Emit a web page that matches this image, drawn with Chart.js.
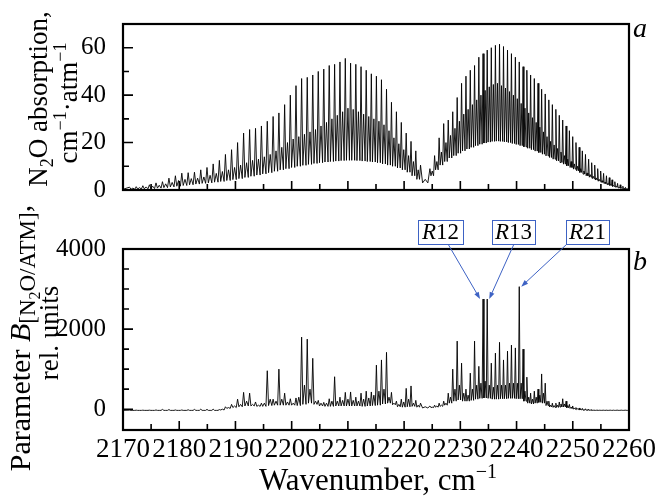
<!DOCTYPE html>
<html>
<head>
<meta charset="utf-8">
<script src="https://cdn.jsdelivr.net/npm/chart.js@4.4.0/dist/chart.umd.min.js"></script>
<style>
  html, body { margin: 0; padding: 0; background: #fff; }
  #wrap { position: relative; width: 655px; height: 497px; }
  canvas { position: absolute; left: 0; top: 0; }
</style>
</head>
<body>
<div id="wrap">
  <canvas id="absChart" width="655" height="497"></canvas>
  <canvas id="bChart" width="655" height="497"></canvas>
</div>
<script>
// ---- DATA ----
// line centres, cm-1: P(52)..P(1), then R(0)..R(55)
const lineWn = [
  2171.17, 2172.35, 2173.53, 2174.70, 2175.87, 2177.02, 2178.17, 2179.32, 2180.46, 2181.59,
  2182.71, 2183.83, 2184.94, 2186.04, 2187.14, 2188.22, 2189.31, 2190.38, 2191.45, 2192.52,
  2193.57, 2194.62, 2195.66, 2196.70, 2197.73, 2198.75, 2199.76, 2200.77, 2201.77, 2202.77,
  2203.75, 2204.73, 2205.71, 2206.68, 2207.64, 2208.59, 2209.54, 2210.48, 2211.41, 2212.34,
  2213.26, 2214.17, 2215.07, 2215.97, 2216.87, 2217.75, 2218.63, 2219.50, 2220.37, 2221.23,
  2222.08, 2222.92,
  2224.59, 2225.42, 2226.23, 2227.04, 2227.85, 2228.65, 2229.44, 2230.22, 2231.00, 2231.77,
  2232.53, 2233.29, 2234.04, 2234.78, 2235.51, 2236.24, 2236.97, 2237.68, 2238.39, 2239.09,
  2239.79, 2240.48, 2241.16, 2241.83, 2242.50, 2243.16, 2243.82, 2244.46, 2245.10, 2245.74,
  2246.37, 2246.99, 2247.60, 2248.21, 2248.81, 2249.40, 2249.99, 2250.57, 2251.14, 2251.70,
  2252.26, 2252.82, 2253.36, 2253.90, 2254.43, 2254.96, 2255.48, 2255.99, 2256.49, 2256.99,
  2257.48, 2257.97, 2258.44, 2258.91, 2259.38, 2259.84
];
const P_LINES = 52;

// (a) absorption, cm-1 atm-1: line maxima, weaker peak between lines, minimum between lines
const absPeak = [
  1.2, 1.4, 1.8, 2.2, 3.0, 3.5, 5.0, 6.0, 7.1, 7.3,
  7.5, 8.5, 9.5, 11, 12.5, 15, 17, 20, 24, 25.5,
  26, 27, 29, 31, 32.5, 36, 40, 44, 47, 47.5,
  48.5, 50, 51, 52.5, 53, 54, 55.5, 53.5, 53, 52,
  50.5, 49, 48, 46.5, 42.5, 37, 33, 28.5, 24, 20.5,
  16.5, 10.5,
  9, 14.5, 22, 28, 29.5, 33, 39, 45, 48, 50.5,
  52.5, 56, 57.5, 59, 60, 61, 61.5, 60.5, 59, 57.5,
  56, 54, 52, 50.5, 48.5, 47, 45, 42.5, 40.5, 38,
  36, 34, 31.5, 29.5, 27, 25, 22.5, 20, 18, 16.5,
  15, 13, 11.5, 10.5, 9, 8, 7, 6, 5.2, 4.3,
  3.5, 2.8, 2.2, 1.6, 1.1, 0.7
];
const absSub = [
  0.8, 1.0, 1.3, 1.6, 2.0, 2.6, 3.2, 4.0, 4.5, 4.8,
  5.0, 5.5, 6.2, 7.0, 7.8, 8.5, 9.5, 10.5, 11.5, 12.5,
  13, 14, 15, 16.5, 18, 20, 21.5, 22.5, 23.5, 24.5,
  25.5, 27, 28.5, 30, 31.5, 33, 34.5, 34, 33, 32,
  31, 30, 29, 27.5, 25, 22, 19.5, 17, 14.5, 12,
  8.5,
  4.5,
  8, 12, 16, 20, 23, 26, 29, 32, 34, 36,
  38, 40, 42, 43.5, 44.5, 45, 44, 43, 41.5, 40,
  38.5, 36.5, 34.5, 32.5, 30.5, 28.5, 26.5, 24.5, 22.5, 20.5,
  19, 17.5, 16, 14.5, 13, 12, 11, 10, 9, 8,
  7.2, 6.5, 5.8, 5.1, 4.5, 3.9, 3.3, 2.8, 2.3, 1.9,
  1.5, 1.2, 0.9, 0.7, 0.5
];
const absFloor = [
  0.3, 0.4, 0.5, 0.6, 0.8, 1.0, 1.3, 1.6, 1.9, 2.2,
  2.5, 2.8, 3.0, 3.3, 3.6, 4.0, 4.4, 4.8, 5.3, 5.8,
  6.3, 6.8, 7.3, 7.9, 8.5, 9.0, 9.5, 10.0, 10.4, 10.8,
  11.2, 11.5, 11.8, 12.0, 12.2, 12.4, 12.5, 12.5, 12.4, 12.2,
  12.0, 11.8, 11.5, 11.0, 10.5, 10.0, 9.3, 8.5, 7.5, 6.0,
  4.5,
  3,
  6, 8.5, 10.5, 12, 13.5, 14.5, 15.5, 16.5, 17.3, 18,
  18.7, 19.3, 19.8, 20.2, 20.5, 20.6, 20.5, 20.3, 20, 19.6,
  19.2, 18.7, 18.2, 17.6, 17, 16.4, 15.8, 15.1, 14.4, 13.7,
  13, 12.3, 11.6, 10.9, 10.2, 9.5, 8.8, 8.1, 7.4, 6.7,
  6.0, 5.4, 4.8, 4.2, 3.7, 3.2, 2.7, 2.3, 1.9, 1.5,
  1.2, 0.9, 0.7, 0.5, 0.35
];
const absEdge = 0.3;

// (b) parameter B, rel. units, same layout as above
const bPeak = [
  -25, -25, -25, -25, -20, -5, -10, -20, -20, -15,
  -5, 0, -5, 0, -10, 60, 120, 250, 420, 400,
  180, 150, 960, 250, 1000, 400, 260, 280, 1800, 1750,
  1270, 220, 170, 260, 810, 300, 420, 430, 300, 400,
  450, 430, 1100, 1230, 1420, 420, 200, 250, 520, 580,
  220, 150,
  80, 100, 150, 200, 400, 1000, 1700, 1150, 500, 900,
  1700, 1070, 2750, 2750, 1150, 1400, 1670, 1230, 1450, 1600,
  1530, 3060, 1500, 800, 400, 450, 500, 880, 650, 200,
  150, 150, 180, 260, 200, 120, 80, 40, 30, 20,
  10, 0, -10, -20, -20, -25, -25, -25, -25, -25,
  -25, -25, -25, -25, -25, -25
];
const bSub = [
  -30, -30, -30, -30, -30, -30, -30, -30, -30, -30,
  -30, -30, -30, -30, 0, 40, 80, 120, 200, 120,
  100, 150, 250, 200, 250, 180, 150, 300, 600, 500,
  200, 150, 150, 200, 200, 220, 250, 220, 200, 250,
  280, 350, 450, 500, 300, 150, 120, 180, 250, 150,
  100,
  60,
  50, 80, 100, 150, 300, 500, 600, 400, 350, 500,
  600, 650, 700, 600, 550, 600, 600, 600, 650, 650,
  650, 650, 450, 300, 250, 300, 350, 400, 200, 100,
  90, 100, 130, 130, 90, 50, 30, 10, 0, -10,
  -15, -20, -25, -25, -25, -25, -25, -25, -25, -25,
  -25, -25, -25, -25, -25
];
const bFloor = [
  -30, -30, -30, -30, -30, -30, -30, -30, -30, -30,
  -30, -30, -30, -30, -20, 20, 40, 60, 80, 80,
  70, 70, 90, 100, 100, 100, 100, 90, 120, 150,
  120, 80, 70, 70, 80, 80, 80, 80, 80, 70,
  80, 90, 100, 130, 150, 110, 60, 50, 60, 70,
  50,
  30,
  40, 50, 70, 100, 150, 200, 230, 200, 200, 220,
  250, 270, 280, 270, 250, 250, 260, 260, 270, 270,
  260, 260, 200, 150, 130, 150, 170, 150, 90, 55,
  45, 45, 55, 55, 35, 20, 0, -10, -20, -25,
  -28, -30, -30, -30, -30, -30, -30, -30, -30, -30,
  -30, -30, -30, -30, -30
];
const bEdge = -30;

// axes
const xTicks = [2170, 2180, 2190, 2200, 2210, 2220, 2230, 2240, 2250, 2260];
const xMinor = [2175, 2185, 2195, 2205, 2215, 2225, 2235, 2245, 2255];
const absTicks = [0, 20, 40, 60];
const absMinor = [10, 30, 50];
const bTicks = [0, 2000, 4000];
const bMinor = [500, 1000, 1500, 2500, 3000, 3500];

// labelled lines in panel b (J of the R branch)
const calloutJ = [12, 13, 21];

// ---- DRAWING ----
const SERIF = "'Liberation Serif', 'Times New Roman', serif";
const BLUE = '#3d62c4';

function buildTrace(peak, sub, floor, edge) {
  const pts = [{ x: 2170, y: edge }];
  for (let i = 0; i < lineWn.length; ++i) {
    pts.push({ x: lineWn[i], y: peak[i] });
    if (i < lineWn.length - 1) {
      const a = lineWn[i], b = lineWn[i + 1];
      pts.push({ x: a + (b - a) * 0.22, y: floor[i] });
      pts.push({ x: (a + b) / 2, y: sub[i] });
      pts.push({ x: a + (b - a) * 0.78, y: floor[i] });
    }
  }
  pts.push({ x: 2260, y: edge });
  return pts;
}

function fontOf(r) {
  return (r.it ? 'italic ' : '') + r.size + 'px ' + SERIF;
}

// text made of runs with their own size / shift, centred on (x, y)
function drawRuns(ctx, runs, x, y, rotate) {
  ctx.save();
  ctx.translate(x, y);
  if (rotate) ctx.rotate(-Math.PI / 2);
  ctx.fillStyle = '#000';
  ctx.textBaseline = 'alphabetic';
  ctx.textAlign = 'left';
  let total = 0;
  for (const r of runs) { ctx.font = fontOf(r); total += ctx.measureText(r.t).width; }
  let cx = -total / 2;
  for (const r of runs) {
    ctx.font = fontOf(r);
    ctx.fillText(r.t, cx, r.dy || 0);
    cx += ctx.measureText(r.t).width;
  }
  ctx.restore();
}

// frame plus inward tick marks
const axesFrame = {
  id: 'axesFrame',
  afterDraw(chart, args, opts) {
    const { ctx, chartArea: a, scales: { x, y } } = chart;
    ctx.save();
    ctx.strokeStyle = '#000';
    ctx.lineWidth = 1.6;
    ctx.beginPath();
    for (const v of xTicks) { const p = x.getPixelForValue(v); ctx.moveTo(p, a.bottom); ctx.lineTo(p, a.bottom - 9); }
    for (const v of xMinor) { const p = x.getPixelForValue(v); ctx.moveTo(p, a.bottom); ctx.lineTo(p, a.bottom - 6); }
    for (const v of opts.major) { const p = y.getPixelForValue(v); ctx.moveTo(a.left, p); ctx.lineTo(a.left + 10, p); }
    for (const v of opts.minor) { const p = y.getPixelForValue(v); ctx.moveTo(a.left, p); ctx.lineTo(a.left + 6, p); }
    ctx.stroke();
    ctx.lineWidth = 2.2;
    ctx.strokeRect(a.left, a.top, a.right - a.left, a.bottom - a.top);
    ctx.restore();
  }
};

// axis titles and panel letter
const titles = {
  id: 'titles',
  afterDraw(chart, args, opts) {
    const ctx = chart.ctx;
    for (const t of opts.items) drawRuns(ctx, t.runs, t.x, t.y, t.rotate);
  }
};

// boxed line names with arrows to their peaks
const callouts = {
  id: 'callouts',
  afterDraw(chart, args, opts) {
    const { ctx, scales: { x, y } } = chart;
    ctx.save();
    opts.boxes.forEach((bx, k) => {
      const i = P_LINES + calloutJ[k];
      const tipX = x.getPixelForValue(lineWn[i]) + bx.dx;
      const tipY = y.getPixelForValue(bPeak[i]);
      ctx.strokeStyle = BLUE;
      ctx.lineWidth = 1;
      ctx.strokeRect(bx.left + 0.5, bx.top + 0.5, bx.w, bx.h);
      drawRuns(ctx, [{ t: 'R', size: 23, it: true }, { t: String(calloutJ[k]), size: 23 }],
        bx.left + bx.w / 2, bx.top + bx.h - 5, false);
      // arrow
      const sx = bx.left + bx.from, sy = bx.top + bx.h;
      const ang = Math.atan2(tipY - sy, tipX - sx);
      ctx.strokeStyle = BLUE;
      ctx.beginPath();
      ctx.moveTo(sx, sy);
      ctx.lineTo(tipX - 5 * Math.cos(ang), tipY - 5 * Math.sin(ang));
      ctx.stroke();
      ctx.fillStyle = BLUE;
      ctx.beginPath();
      ctx.moveTo(tipX, tipY);
      ctx.lineTo(tipX - 7 * Math.cos(ang) + 2.5 * Math.sin(ang), tipY - 7 * Math.sin(ang) - 2.5 * Math.cos(ang));
      ctx.lineTo(tipX - 7 * Math.cos(ang) - 2.5 * Math.sin(ang), tipY - 7 * Math.sin(ang) + 2.5 * Math.cos(ang));
      ctx.closePath();
      ctx.fill();
    });
    ctx.restore();
  }
};

function panelOptions(padTop, padBottom, xHeight, yMin, yMax, yTicks, showX) {
  return {
    responsive: false,
    animation: false,
    events: [],
    layout: { padding: { top: padTop, right: 26, bottom: padBottom, left: 0 } },
    plugins: { legend: { display: false }, tooltip: { enabled: false } },
    scales: {
      x: {
        type: 'linear', min: 2170, max: 2260,
        grid: { display: false }, border: { display: false },
        ticks: { display: showX, color: '#000', font: { family: SERIF, size: 27 }, padding: -4,
                 maxRotation: 0, autoSkip: false, callback: v => String(v) },
        afterBuildTicks: s => { s.ticks = xTicks.map(v => ({ value: v })); },
        afterFit: s => { s.height = xHeight; }
      },
      y: {
        min: yMin, max: yMax,
        grid: { display: false }, border: { display: false },
        ticks: { color: '#000', font: { family: SERIF, size: 25 }, padding: 9, callback: v => String(v) },
        afterBuildTicks: s => { s.ticks = yTicks.map(v => ({ value: v })); },
        afterFit: s => { s.width = 123; }
      }
    }
  };
}

const absTrace = buildTrace(absPeak, absSub, absFloor, absEdge);
const bTrace = buildTrace(bPeak, bSub, bFloor, bEdge);

const absOpts = panelOptions(11, 282, 25, 0, 70, absTicks, false);
absOpts.plugins.axesFrame = { major: absTicks, minor: absMinor };
absOpts.plugins.titles = { items: [
  { rotate: true, x: 47, y: 99, runs: [
    { t: 'N', size: 27 }, { t: '2', size: 18, dy: 6 }, { t: 'O absorption,', size: 27 }] },
  { rotate: true, x: 77, y: 103, runs: [
    { t: 'cm', size: 27 }, { t: '\u22121', size: 18, dy: -11 }, { t: '\u00b7atm', size: 27 }, { t: '\u22121', size: 18, dy: -11 }] },
  { rotate: false, x: 640, y: 37, runs: [{ t: 'a', size: 28, it: true }] }
] };

new Chart(document.getElementById('absChart'), {
  type: 'line',
  data: { datasets: [{ data: absTrace, borderColor: '#000', borderWidth: 0.9, pointRadius: 0, tension: 0 }] },
  options: absOpts,
  plugins: [axesFrame, titles]
});

const bOpts = panelOptions(249, 0, 67, -520, 4000, bTicks, true);
bOpts.plugins.axesFrame = { major: bTicks, minor: bMinor };
bOpts.plugins.titles = { items: [
  { rotate: true, x: 30, y: 338, runs: [
    { t: 'Parameter ', size: 30 }, { t: 'B', size: 30, it: true }, { t: '[N', size: 23, dy: 5 },
    { t: '2', size: 16, dy: 10 }, { t: 'O/ATM]', size: 23, dy: 5 }, { t: ',', size: 30 }] },
  { rotate: true, x: 58, y: 333, runs: [{ t: 'rel. units', size: 27 }] },
  { rotate: false, x: 378, y: 490, runs: [
    { t: 'Wavenumber, cm', size: 31 }, { t: '\u22121', size: 20, dy: -12 }] },
  { rotate: false, x: 640, y: 270, runs: [{ t: 'b', size: 28, it: true }] }
] };
bOpts.plugins.callouts = { boxes: [
  { left: 418, top: 220, w: 45, h: 24, from: 30, dx: -3 },
  { left: 492, top: 220, w: 43, h: 24, from: 22, dx: 2 },
  { left: 566, top: 220, w: 43, h: 24, from: 1, dx: 2 }
] };

new Chart(document.getElementById('bChart'), {
  type: 'line',
  data: { datasets: [{ data: bTrace, borderColor: '#000', borderWidth: 0.9, pointRadius: 0, tension: 0 }] },
  options: bOpts,
  plugins: [axesFrame, titles, callouts]
});
</script>
</body>
</html>
